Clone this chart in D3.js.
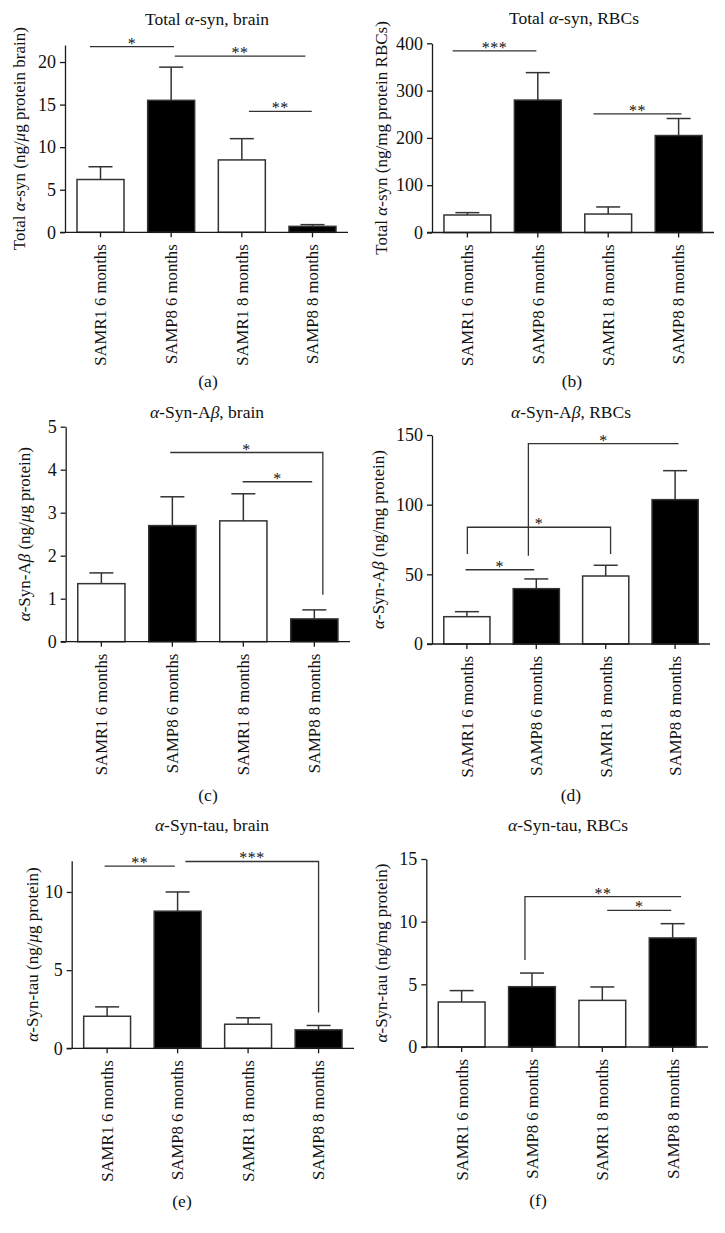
<!DOCTYPE html>
<html><head><meta charset="utf-8">
<script src="https://cdn.jsdelivr.net/npm/d3@7"></script>
<style>
html,body{margin:0;padding:0;background:#fff;}
svg{display:block;}
text{font-family:"Liberation Serif","Times New Roman",serif;fill:#111;}
</style></head>
<body>
<script>
// ---------- data ----------
const categories = ["SAMR1 6 months","SAMP8 6 months","SAMR1 8 months","SAMP8 8 months"];
const strain = ["SAMR1","SAMP8","SAMR1","SAMP8"];

const totalBrainMean = [6.2, 15.5, 8.5, 0.7];
const totalBrainSem  = [1.5, 3.9, 2.5, 0.2];
const totalRbcMean   = [37, 280, 39, 205];
const totalRbcSem    = [5, 58, 15, 36];
const abBrainMean    = [1.35, 2.7, 2.81, 0.53];
const abBrainSem     = [0.25, 0.67, 0.63, 0.21];
const abRbcMean      = [19.6, 39.7, 48.8, 103.6];
const abRbcSem       = [3.6, 7.0, 7.7, 20.8];
const tauBrainMean   = [2.05, 8.77, 1.54, 1.18];
const tauBrainSem    = [0.6, 1.23, 0.41, 0.28];
const tauRbcMean     = [3.59, 4.81, 3.72, 8.7];
const tauRbcSem      = [0.91, 1.09, 1.07, 1.14];

const ticksA = [0,5,10,15,20];
const ticksB = [0,100,200,300,400];
const ticksC = [0,1,2,3,4,5];
const ticksD = [0,50,100,150];
const ticksE = [0,5,10];
const ticksF = [0,5,10,15];

// significance brackets: from/to in category-index units, y in data units, legs = bottom of vertical legs
const sigA = [{from:-0.15,to:1.04,y:21.8,label:"*"},{from:1.05,to:2.9,y:20.7,label:"**"},{from:2.1,to:2.99,y:14.2,label:"**"}];
const sigB = [{from:-0.21,to:0.98,y:384,label:"***"},{from:1.79,to:3.04,y:251,label:"**"}];
const sigC = [{from:0.97,to:3.12,y:4.4,label:"*",rightLeg:1.09},{from:1.99,to:2.97,y:3.72,label:"*"}];
const sigD = [{from:0.886,to:3.05,y:143.8,label:"*",leftLeg:63.4},{from:0.007,to:2.07,y:83.8,label:"*",leftLeg:64.6,rightLeg:64.6},{from:-0.02,to:0.97,y:53.3,label:"*"}];
const sigE = [{from:-0.035,to:0.96,y:11.65,label:"**"},{from:1.11,to:3.0,y:11.95,label:"***",rightLeg:2.29}];
const sigF = [{from:0.9,to:3.12,y:12.0,label:"**",leftLeg:6.94},{from:2.07,to:2.98,y:10.9,label:"*"}];

// text (segments between "_" are italic)
const titles = ["Total _α_-syn, brain","Total _α_-syn, RBCs","_α_-Syn-A_β_, brain","_α_-Syn-A_β_, RBCs","_α_-Syn-tau, brain","_α_-Syn-tau, RBCs"];
const yLabels = ["Total _α_-syn (ng/_μ_g protein brain)","Total _α_-syn (ng/mg protein RBCs)","_α_-Syn-A_β_ (ng/_μ_g protein)","_α_-Syn-A_β_ (ng/mg protein)","_α_-Syn-tau (ng/_μ_g protein)","_α_-Syn-tau (ng/mg protein)"];
const panelLetters = ["(a)","(b)","(c)","(d)","(e)","(f)"];

// ---------- layout ----------
const panels = [
  {mean:totalBrainMean, sem:totalBrainSem, ticks:ticksA, yMax:22,  sig:sigA, x0:65,   x1:348, yBase:232.3, yTop:45,    tx:207, ty:25,  lx:25,    px:208, py:387},
  {mean:totalRbcMean,   sem:totalRbcSem,   ticks:ticksB, yMax:400, sig:sigB, x0:432,  x1:714, yBase:232.5, yTop:43.3,  tx:574, ty:24,  lx:386.5, px:572, py:387},
  {mean:abBrainMean,    sem:abBrainSem,    ticks:ticksC, yMax:5,   sig:sigC, x0:65.7, x1:350, yBase:641.7, yTop:426.7, tx:207, ty:418, lx:30,    px:208, py:801},
  {mean:abRbcMean,      sem:abRbcSem,      ticks:ticksD, yMax:150, sig:sigD, x0:432,  x1:710, yBase:644,   yTop:435,   tx:571, ty:418, lx:383.5, px:571, py:801},
  {mean:tauBrainMean,   sem:tauBrainSem,   ticks:ticksE, yMax:12,  sig:sigE, x0:71.7, x1:354, yBase:1048.3,yTop:860.7, tx:212, ty:831, lx:38,    px:182, py:1207},
  {mean:tauRbcMean,     sem:tauRbcSem,     ticks:ticksF, yMax:15,  sig:sigF, x0:426.3,x1:708, yBase:1047,  yTop:859,   tx:568, ty:831, lx:386.5, px:538, py:1206}
];

const W = 725, H = 1233;
const svg = d3.select("body").append("svg").attr("width", W).attr("height", H);
const ink = "#1a1a1a";
const FS_TICK = 18, FS_CAT = 16.7, FS_TITLE = 17.5, FS_YLAB = 17, FS_LET = 17.5;

function richText(sel, str){
  str.split("_").forEach((s,i)=>{
    if(!s) return;
    sel.append("tspan").attr("font-style", i%2 ? "italic" : "normal").text(s);
  });
}

panels.forEach((p, pi)=>{
  const g = svg.append("g");
  const x = d3.scaleBand().domain(categories).range([p.x0, p.x1]).paddingInner(0.335).paddingOuter(0.17);
  const y = d3.scaleLinear().domain([0, p.yMax]).range([p.yBase, p.yTop]);
  const bw = x.bandwidth();
  const cx = i => x(categories[0]) + bw/2 + i * x.step();

  // y axis
  const ya = g.append("g").attr("transform", `translate(${p.x0},0)`)
    .call(d3.axisLeft(y).tickValues(p.ticks).tickFormat(d3.format("~g")).tickSize(5).tickPadding(4).tickSizeOuter(0));
  ya.select(".domain").attr("stroke", ink).attr("stroke-width", 1.3);
  ya.selectAll(".tick line").attr("stroke", ink).attr("stroke-width", 1.3);
  ya.selectAll(".tick text").attr("font-size", FS_TICK).attr("font-family", "Liberation Serif, serif").attr("fill", "#111");

  // bars
  const data = categories.map((c,i)=>({c, i, m:p.mean[i], s:p.sem[i], dark: strain[i]==="SAMP8"}));
  g.selectAll("rect.bar").data(data).enter().append("rect")
    .attr("x", d=>x(d.c)).attr("width", bw)
    .attr("y", d=>y(d.m)).attr("height", d=>y(0)-y(d.m))
    .attr("fill", d=>d.dark ? "#000" : "#fff")
    .attr("stroke", "#333").attr("stroke-width", 1.5);

  // error bars (upper only)
  const eb = g.selectAll("g.err").data(data).enter().append("g");
  eb.append("line").attr("x1", d=>x(d.c)+bw/2).attr("x2", d=>x(d.c)+bw/2)
    .attr("y1", d=>y(d.m)).attr("y2", d=>y(d.m+d.s)).attr("stroke", "#333").attr("stroke-width", 1.5);
  eb.append("line").attr("x1", d=>x(d.c)+bw/2-12).attr("x2", d=>x(d.c)+bw/2+12)
    .attr("y1", d=>y(d.m+d.s)).attr("y2", d=>y(d.m+d.s)).attr("stroke", "#333").attr("stroke-width", 1.5);

  // x axis
  const xa = g.append("g").attr("transform", `translate(0,${p.yBase})`)
    .call(d3.axisBottom(x).tickSize(5).tickSizeOuter(0).tickFormat(""));
  xa.select(".domain").attr("stroke", ink).attr("stroke-width", 1.3).attr("d", `M${p.x0-5},0H${p.x1}`);
  xa.selectAll(".tick line").attr("stroke", ink).attr("stroke-width", 1.3);
  xa.selectAll(".tick").append("text")
    .attr("transform", "translate(0,12) rotate(-90)")
    .attr("text-anchor", "end").attr("dy", "0.35em")
    .attr("font-size", FS_CAT).attr("fill", "#111")
    .text(d=>d);

  // significance brackets
  p.sig.forEach(s=>{
    const xa1 = cx(s.from), xa2 = cx(s.to), yy = y(s.y);
    let path = `M${xa1},${yy}H${xa2}`;
    if (s.leftLeg !== undefined) path = `M${xa1},${y(s.leftLeg)}V${yy}H${xa2}`;
    if (s.rightLeg !== undefined) path += `V${y(s.rightLeg)}`;
    g.append("path").attr("d", path).attr("fill", "none").attr("stroke", "#333").attr("stroke-width", 1.3);
    g.append("text").attr("x", (xa1+xa2)/2).attr("y", yy+2).attr("text-anchor", "middle")
      .attr("font-size", 16).attr("fill", "#555").attr("letter-spacing", 0.5).text(s.label);
  });

  // title
  richText(g.append("text").attr("x", p.tx).attr("y", p.ty).attr("text-anchor", "middle").attr("font-size", FS_TITLE), titles[pi]);
  // y label
  richText(g.append("text").attr("transform", `translate(${p.lx},${(p.yBase+p.yTop)/2}) rotate(-90)`)
    .attr("text-anchor", "middle").attr("font-size", FS_YLAB), yLabels[pi]);
  // panel letter
  g.append("text").attr("x", p.px).attr("y", p.py).attr("text-anchor", "middle").attr("font-size", FS_LET).text(panelLetters[pi]);
});
</script>
</body></html>
